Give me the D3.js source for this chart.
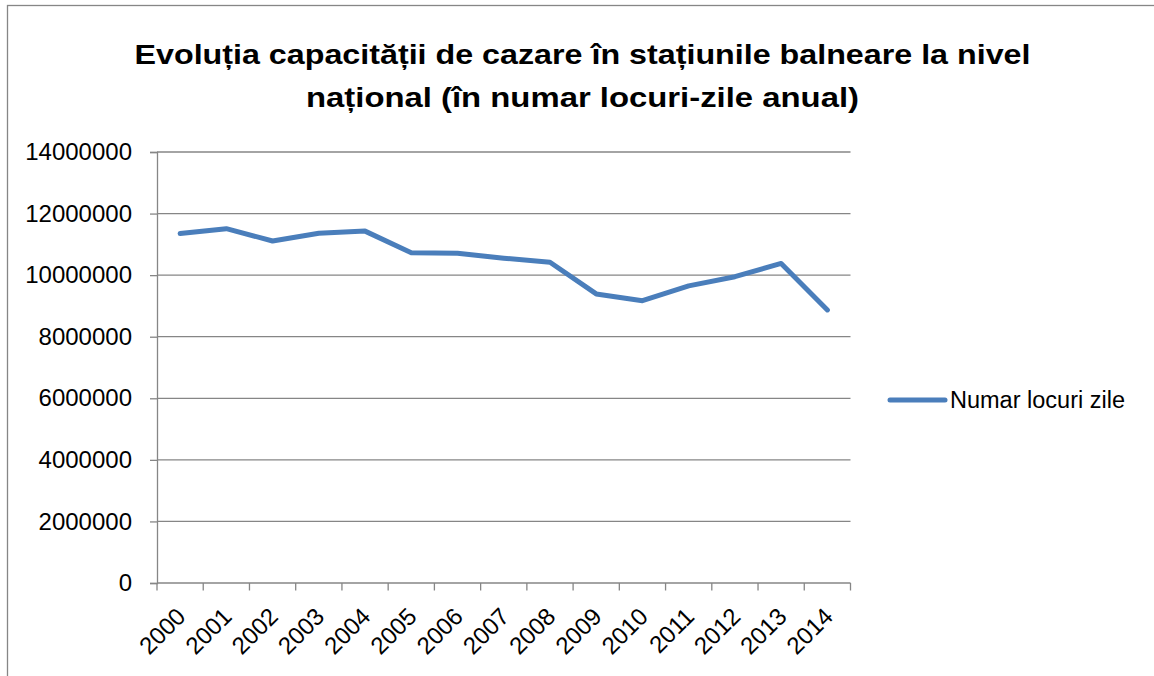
<!DOCTYPE html>
<html>
<head>
<meta charset="utf-8">
<script src="https://cdn.jsdelivr.net/npm/d3@7"></script>
<style>
  html, body { margin: 0; padding: 0; background: #fff; }
  svg { display: block; }
</style>
</head>
<body>
<svg id="chart" width="1154" height="676"></svg>
<script>
const years = ["2000","2001","2002","2003","2004","2005","2006","2007","2008","2009","2010","2011","2012","2013","2014"];
const values = [11350000, 11510000, 11110000, 11360000, 11430000, 10730000, 10710000, 10550000, 10420000, 9390000, 9170000, 9650000, 9950000, 10380000, 8870000];
const yTicks = [0, 2000000, 4000000, 6000000, 8000000, 10000000, 12000000, 14000000];
const seriesName = "Numar locuri zile";
const titleLines = ["Evoluția capacității de cazare în stațiunile balneare la nivel", "național (în numar locuri-zile anual)"];

const svg = d3.select("#chart");
const W = 1154, H = 676;
const plot = {left: 157, right: 850.5, top: 152, bottom: 583};
const gridColor = "#868686";
const lineColor = "#4a7ebb";
const font = "'Liberation Sans', Arial, sans-serif";

svg.append("rect").attr("width", W).attr("height", H).attr("fill", "#fff");
// outer chart border (only top and left visible)
svg.append("rect").attr("x", 7.5).attr("y", 5.5).attr("width", 1300).attr("height", 800)
  .attr("fill", "none").attr("stroke", gridColor).attr("stroke-width", 1.3);

// title
const titleBaselines = [64, 107];
const titleWidths = [896, 553];
titleLines.forEach((t, i) => {
  svg.append("text")
    .attr("x", 582.5).attr("y", titleBaselines[i])
    .attr("text-anchor", "middle")
    .attr("font-family", font).attr("font-weight", "bold").attr("font-size", 28)
    .attr("textLength", titleWidths[i]).attr("lengthAdjust", "spacingAndGlyphs")
    .attr("fill", "#000")
    .text(t);
});

const x = d3.scaleBand().domain(years).range([plot.left, plot.right]).padding(0);
const y = d3.scaleLinear().domain([0, 14000000]).range([plot.bottom, plot.top]);

// gridlines
svg.append("g").selectAll("line").data(yTicks.filter(d => d > 0)).join("line")
  .attr("x1", plot.left).attr("x2", plot.right)
  .attr("y1", d => y(d)).attr("y2", d => y(d))
  .attr("stroke", gridColor).attr("stroke-width", 1.3);

// y axis
const yAxis = svg.append("g").attr("transform", `translate(${plot.left},0)`)
  .call(d3.axisLeft(y).tickValues(yTicks).tickFormat(d3.format("d")).tickSize(7).tickPadding(18));
yAxis.select(".domain").attr("stroke", gridColor).attr("stroke-width", 1.3);
yAxis.selectAll(".tick line").attr("stroke", gridColor).attr("stroke-width", 1.3);
yAxis.selectAll("text").attr("font-family", font).attr("font-size", 24).attr("fill", "#000");

// x axis: ticks at category boundaries
const xAxisG = svg.append("g");
xAxisG.append("line").attr("x1", plot.left).attr("x2", plot.right)
  .attr("y1", plot.bottom).attr("y2", plot.bottom)
  .attr("stroke", gridColor).attr("stroke-width", 1.3);
const boundaries = years.map(d => x(d)).concat([x(years[years.length - 1]) + x.bandwidth()]);
xAxisG.selectAll("line.tk").data(boundaries).join("line").attr("class", "tk")
  .attr("x1", d => d).attr("x2", d => d)
  .attr("y1", plot.bottom).attr("y2", plot.bottom + 7.5)
  .attr("stroke", gridColor).attr("stroke-width", 1.3);
xAxisG.selectAll("text").data(years).join("text")
  .attr("transform", d => `translate(${x(d) + x.bandwidth() / 2 + 1},${plot.bottom + 29}) rotate(-45)`)
  .attr("text-anchor", "end").attr("dy", "0.35em")
  .attr("font-family", font).attr("font-size", 24).attr("fill", "#000")
  .text(d => d);

// line
const line = d3.line().x((d, i) => x(years[i]) + x.bandwidth() / 2).y(d => y(d));
svg.append("path").datum(values)
  .attr("d", line).attr("fill", "none")
  .attr("stroke", lineColor).attr("stroke-width", 5)
  .attr("stroke-linejoin", "round").attr("stroke-linecap", "round");

// legend
const lg = svg.append("g").attr("transform", "translate(890,400)");
lg.append("line").attr("x1", 0).attr("x2", 55).attr("y1", 0).attr("y2", 0)
  .attr("stroke", lineColor).attr("stroke-width", 5).attr("stroke-linecap", "round");
lg.append("text").attr("x", 60).attr("y", 0).attr("dy", "0.35em")
  .attr("font-family", font).attr("font-size", 23.5).attr("fill", "#000")
  .text(seriesName);
</script>
</body>
</html>
